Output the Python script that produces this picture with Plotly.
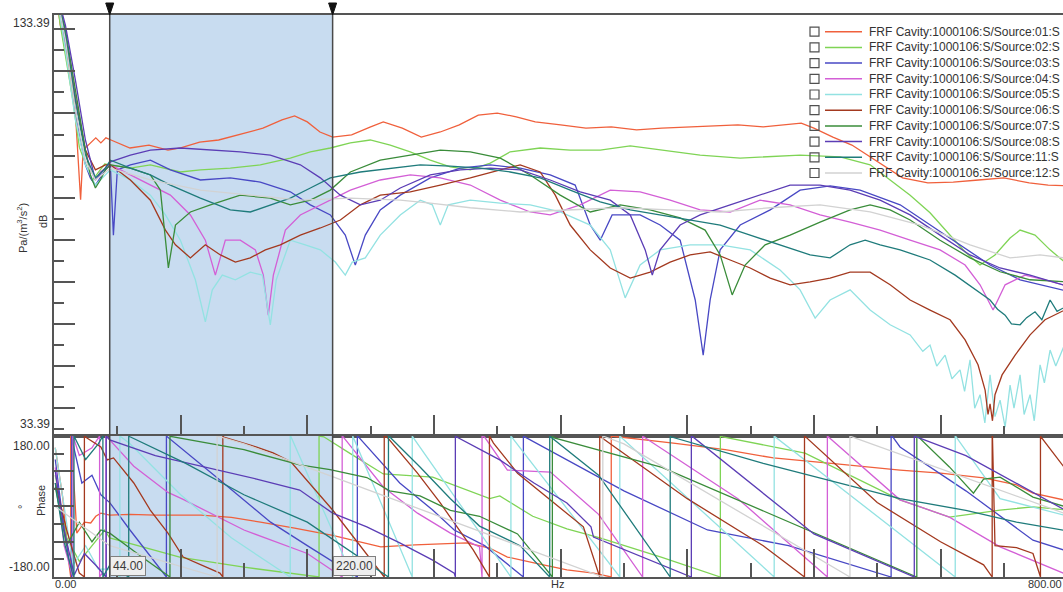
import math
import plotly.graph_objects as go

# ---------------------------------------------------------------------------
# Frequency response data: magnitude [Hz, dB] and unwrapped phase [Hz, deg]
# ---------------------------------------------------------------------------
MAG_01 = [[1, 140], [5, 131], [9, 126.3], [14, 116.8], [17, 109.6], [19, 99], [21, 89.5], [23, 101.3],
          [27, 102.5], [33, 104.2], [37, 103], [41, 104.2], [45, 103.7], [60, 101.8], [75, 102.5],
          [90, 101.3], [100, 101.8], [115, 103.2], [130, 103.7], [150, 105.4], [165, 106.5], [180, 108.5],
          [190, 109.4], [200, 108], [210, 105.6], [220, 104.4], [235, 104.9], [250, 106.8], [260, 108],
          [275, 106.5], [290, 104.4], [305, 105.6], [320, 107.3], [335, 109.6], [350, 110.1], [365, 109.2],
          [380, 108], [400, 107.3], [420, 106.5], [440, 106.8], [460, 106.1], [480, 106.5], [500, 106.8],
          [520, 107], [540, 107.3], [560, 106.8], [580, 107.3], [590, 107.7], [600, 106.5], [615, 104.4],
          [630, 102.5], [650, 98.5], [670, 94.7], [690, 93.5], [710, 93.7], [730, 94.2], [750, 94.7],
          [770, 93.5], [785, 93], [800, 92.8]]
MAG_02 = [[1, 140], [5, 131], [10, 122], [15, 113], [20, 102], [25, 98], [30, 94], [35, 96], [40, 98],
          [44.5, 97.8], [60.3, 97.0], [76.1, 97.8], [99.8, 96.1], [115.6, 96.6], [139.2, 97.0], [162.9, 97.8],
          [186.6, 99.4], [202.4, 100.9], [218.2, 101.8], [234, 103.0], [249.7, 103.7], [265.5, 102.5],
          [281.3, 100.9], [297.1, 98.9], [312.9, 97.3], [328.7, 96.6], [344.5, 98.2], [360.2, 100.9],
          [383.9, 101.8], [407.6, 101.3], [431.3, 101.3], [455, 102.3], [478.6, 101.3], [510.2, 100.1],
          [541.8, 99.4], [573.3, 99.9], [589.1, 100.1], [620.7, 99.7], [644.4, 97.8], [660.2, 94.2],
          [676, 90.6], [691.7, 86.4], [707.5, 81.1], [719.4, 77.1], [731.2, 74.0], [743, 76.4],
          [754.9, 80.4], [762.8, 82.3], [774.6, 81.1], [786.5, 77.6], [800, 74.2]]
MAG_03 = [[1, 140], [9.0, 127.4], [13.0, 120.3], [16.9, 110.8], [20.8, 103.7], [24.8, 97.8], [28.7, 94.7],
          [32.7, 93.0], [36.6, 94.7], [40.6, 96.6], [44.5, 97.8], [46.9, 81.1], [50.0, 96.6], [60.3, 97.8],
          [76.1, 98.9], [91.9, 96.6], [115.6, 94.2], [139.2, 94.7], [162.9, 93.7], [186.6, 91.4],
          [202.4, 88.3], [218.2, 85.9], [230.0, 81.1], [237.9, 74.0], [245.8, 81.1], [257.6, 87.1],
          [273.4, 90.6], [297.1, 94.7], [320.8, 97.0], [344.5, 97.8], [368.1, 97.0], [391.8, 95.4],
          [411.5, 93.0], [423.4, 83.5], [431.3, 79.9], [440.7, 85.9], [462.8, 85.9], [478.6, 83.5],
          [494.4, 79.9], [506.3, 65.7], [512.6, 52.6], [518.1, 65.7], [526.0, 77.6], [541.8, 83.5],
          [565.5, 87.1], [589.1, 91.8], [612.8, 92.8], [636.5, 91.8], [668.1, 88.3], [691.7, 83.5],
          [715.4, 78.8], [739.1, 74.0], [762.8, 70.5], [800, 67.8]]
MAG_04 = [[1, 140], [9.0, 129.8], [16.9, 114.4], [24.8, 101.3], [28.7, 96.6], [32.7, 94.2], [36.6, 96.1],
          [44.5, 97.8], [60.3, 95.4], [76.1, 93.0], [91.9, 90.6], [107.7, 85.9], [119.5, 79.9], [127.4, 71.6],
          [135.3, 79.9], [147.1, 79.9], [159.0, 77.6], [165.3, 71.6], [169.2, 62.1], [173.2, 71.6],
          [182.7, 82.3], [194.5, 85.9], [210.3, 88.3], [234.0, 91.8], [257.6, 94.2], [281.3, 95.4],
          [305.0, 94.7], [328.7, 93.0], [352.4, 89.4], [376.0, 86.6], [391.8, 85.9], [415.5, 88.3],
          [439.2, 91.8], [462.8, 91.4], [486.5, 89.4], [510.2, 87.1], [533.9, 86.6], [557.5, 89.4],
          [581.2, 88.3], [604.9, 85.9], [628.6, 84.2], [652.3, 82.3], [676.0, 79.9], [699.6, 77.6],
          [719.4, 74.0], [731.2, 69.3], [741.5, 63.3], [751.0, 69.3], [766.7, 71.6], [782.5, 70.5],
          [800, 69.0]]
MAG_05 = [[1, 140], [9.0, 125.1], [16.9, 108.5], [24.8, 97.8], [32.7, 93.0], [40.6, 95.4], [44.5, 96.6],
          [60.3, 94.2], [76.1, 90.6], [88.0, 85.9], [99.8, 79.9], [111.6, 70.5], [119.5, 60.5], [125.0, 68.1],
          [132.9, 71.6], [143.2, 70.5], [155.0, 72.3], [164.5, 71.6], [170.8, 59.8], [175.5, 70.5],
          [186.6, 79.9], [198.4, 78.8], [210.3, 77.6], [222.1, 74.7], [230.0, 71.6], [235.5, 74.7],
          [245.8, 75.7], [257.6, 81.1], [273.4, 85.9], [289.2, 89.4], [298.7, 88.3], [305.0, 83.5],
          [311.3, 88.3], [328.7, 89.4], [352.4, 88.7], [376.0, 88.3], [399.7, 86.6], [423.4, 83.5],
          [439.2, 77.6], [451.0, 66.2], [462.8, 74.0], [478.6, 77.6], [502.3, 78.8], [526.0, 78.8],
          [549.7, 77.6], [573.3, 72.8], [589.1, 68.1], [601.0, 61.4], [612.8, 65.7], [628.6, 68.1],
          [644.4, 63.3], [660.2, 59.8], [676.0, 57.4], [686.0, 53.5], [691.7, 55.0], [697.0, 50.0],
          [703.6, 52.6], [709.0, 47.0], [715.4, 49.1], [719.0, 44.0], [723.3, 51.5], [727.0, 40.0],
          [731.2, 43.2], [735.0, 36.5], [739.1, 47.9], [743.0, 38.0], [747.0, 41.9], [751.0, 35.5],
          [754.9, 45.5], [758.0, 40.0], [762.8, 47.9], [766.0, 38.5], [770.7, 43.2], [774.0, 37.0],
          [778.6, 50.3], [782.0, 46.0], [786.5, 53.8], [791.0, 50.0], [800, 56.6]]
MAG_06 = [[1, 140], [9.0, 128.6], [16.9, 113.2], [24.8, 101.3], [32.7, 96.6], [40.6, 97.8], [44.5, 97.8],
          [60.3, 94.2], [76.1, 89.4], [88.0, 82.3], [95.9, 78.8], [107.7, 75.7], [119.5, 78.8], [131.4, 76.4],
          [143.2, 74.7], [155.0, 75.7], [166.9, 77.6], [178.7, 78.8], [194.5, 81.1], [210.3, 82.8],
          [226.1, 84.7], [241.9, 88.3], [257.6, 90.6], [281.3, 91.4], [305.0, 93.0], [328.7, 94.7],
          [352.4, 96.6], [368.1, 97.8], [383.9, 96.1], [395.8, 90.6], [407.6, 83.5], [423.4, 77.6],
          [439.2, 73.3], [455.0, 70.9], [470.7, 72.3], [486.5, 74.7], [502.3, 76.4], [518.1, 77.1],
          [533.9, 75.2], [549.7, 73.3], [565.5, 70.9], [581.2, 69.3], [597.0, 70.0], [612.8, 70.9],
          [628.6, 72.3], [644.4, 72.3], [660.2, 69.3], [676.0, 65.7], [691.7, 63.3], [707.5, 61.0],
          [719.4, 56.2], [729.6, 50.3], [735.2, 44.3], [737.5, 38.5], [739.1, 41.0], [741.0, 37.0],
          [743.0, 43.2], [748.6, 47.9], [758.9, 52.6], [770.7, 57.4], [782.5, 61.0], [800, 63.6]]
MAG_07 = [[1, 140], [9.0, 129.8], [16.9, 115.6], [24.8, 101.3], [28.7, 95.4], [32.7, 92.3], [36.6, 94.2],
          [40.6, 96.6], [44.5, 97.8], [60.3, 97.0], [76.1, 95.4], [84.0, 91.8], [90.3, 73.3], [95.9, 83.5],
          [107.7, 86.6], [123.5, 88.3], [147.1, 90.6], [170.8, 89.9], [186.6, 88.3], [202.4, 89.4],
          [218.2, 91.8], [234.0, 96.1], [257.6, 98.9], [281.3, 100.1], [305.0, 101.3], [328.7, 100.9],
          [352.4, 99.4], [376.0, 95.4], [399.7, 90.6], [423.4, 86.6], [447.1, 88.3], [470.7, 87.1],
          [494.4, 85.2], [514.1, 82.3], [526.0, 76.4], [535.5, 66.9], [545.7, 74.0], [561.5, 78.8],
          [581.2, 81.1], [604.9, 84.2], [628.6, 87.1], [644.4, 88.3], [660.2, 87.1], [676.0, 84.7],
          [699.6, 79.9], [723.3, 75.7], [747.0, 72.4], [770.7, 70.5], [800, 70.0]]
MAG_08 = [[1, 140], [9.0, 131.0], [16.9, 117.9], [24.8, 103.7], [32.7, 94.2], [40.6, 97.0], [44.5, 98.5],
          [60.3, 100.1], [76.1, 101.3], [99.8, 101.8], [123.5, 101.3], [147.1, 100.9], [170.8, 100.1],
          [194.5, 97.8], [210.3, 94.7], [226.1, 90.6], [241.9, 88.3], [257.6, 89.4], [273.4, 92.3],
          [297.1, 95.4], [320.8, 96.6], [344.5, 97.0], [368.1, 96.6], [391.8, 94.2], [415.5, 91.4],
          [439.2, 89.4], [455.0, 85.9], [466.8, 77.6], [472.4, 71.6], [478.6, 77.6], [494.4, 83.5],
          [510.2, 85.9], [533.9, 88.3], [557.5, 90.6], [581.2, 93.0], [604.9, 93.0], [628.6, 91.8],
          [652.3, 89.4], [676.0, 85.9], [699.6, 81.1], [723.3, 76.4], [747.0, 73.3], [770.7, 71.6],
          [800, 69.0]]
MAG_11 = [[1, 140], [9.0, 128.6], [16.9, 113.2], [24.8, 100.1], [32.7, 94.7], [40.6, 97.0], [44.5, 98.9],
          [60.3, 97.0], [76.1, 95.4], [91.9, 93.0], [115.6, 89.9], [139.2, 87.1], [155.0, 86.6],
          [170.8, 88.3], [186.6, 89.9], [202.4, 92.3], [218.2, 94.7], [241.9, 96.1], [265.5, 97.0],
          [289.2, 97.8], [312.9, 97.5], [336.5, 97.0], [360.2, 96.1], [383.9, 94.7], [407.6, 91.8],
          [431.3, 89.0], [455.0, 87.1], [478.6, 85.9], [502.3, 84.7], [526.0, 83.5], [549.7, 81.1],
          [573.3, 78.8], [597.0, 76.4], [612.8, 75.7], [628.6, 78.8], [640.5, 79.9], [652.3, 78.8],
          [668.1, 77.6], [691.7, 75.2], [711.5, 71.6], [727.3, 68.1], [739.1, 65.7], [745.0, 63.5],
          [751.0, 62.1], [756.0, 60.0], [762.8, 59.8], [768.0, 61.5], [774.6, 62.9], [780.0, 61.0],
          [786.5, 65.7], [792.0, 63.0], [800, 64.3]]
MAG_12 = [[1, 140], [9.0, 127.4], [16.9, 110.8], [24.8, 98.9], [32.7, 94.2], [44.5, 97.0], [76.1, 94.2],
          [115.6, 91.8], [155.0, 90.6], [194.5, 89.4], [234.0, 89.9], [273.4, 89.4], [297.1, 88.7],
          [328.7, 87.6], [368.1, 86.6], [407.6, 87.1], [447.1, 87.6], [486.5, 87.1], [526.0, 86.6],
          [565.5, 87.6], [604.9, 88.3], [644.4, 86.6], [684.0, 83.5], [723.3, 78.8], [754.9, 75.7],
          [778.6, 76.4], [800, 75.6]]

PH_01 = [[1, 150], [7, 20], [12, -150], [14, -200], [18, -428], [24, -400], [29, -402], [33, -385],
         [37, -377], [44, -382], [60, -380], [80, -382], [116, -382], [140, -388], [163, -400], [190, -415],
         [220, -434], [258, -463], [285, -458], [326, -453], [344, -466], [358, -489], [379, -504],
         [405, -522], [426, -530], [440, -540], [449, -543], [489, -558], [530, -575], [568, -596],
         [620, -612], [668, -627], [700, -635], [734, -647], [760, -665], [773, -686], [800, -705]]
PH_02 = [[1, 80], [10, -80], [20, -140], [30, -100], [40, -60], [44, -80], [100, -130], [150, -155],
         [200, -175], [213, -182], [234, -225], [260, -277], [281, -281], [299, -285], [344, -340],
         [352, -333], [378, -385], [405, -417], [431, -440], [480, -490], [528, -542], [593, -584],
         [668, -703], [707, -747], [747, -729], [773, -721], [800, -729]]
PH_03 = [[1, 120], [8, -60], [15, -200], [22, -300], [30, -280], [37, -330], [44, -350], [60, -420],
         [89, -541], [130, -650], [171, -760], [200, -820], [240, -901], [273, -1020], [299, -1089],
         [316, -1140], [340, -1180], [371, -1261], [450, -1400], [516, -1500], [580, -1540], [662, -1621],
         [668, -1648], [720, -1760], [773, -1886], [800, -1914]]
PH_04 = [[1, 100], [8, -100], [14, -170], [20, -230], [30, -210], [38, -170], [44, -190], [63, -257],
         [90, -324], [102, -342], [150, -420], [200, -480], [228, -541], [260, -670], [287, -737],
         [313, -788], [336, -823], [338, -901], [340, -903], [358, -987], [392, -992], [430, -1100],
         [465, -1261], [540, -1420], [611, -1621], [668, -1783], [707, -1827], [747, -1903], [800, -1974]]
PH_05 = [[1, 150], [8, 0], [15, -150], [25, -100], [35, -160], [44, -160], [60, -200], [100, -330],
         [140, -440], [187, -541], [236, -901], [283, -1261], [361, -1621], [447, -1981], [569, -2341],
         [712, -2701], [747, -2860], [800, -2904]]
PH_06 = [[1, 60], [10, -60], [20, -170], [26, -185], [37, -208], [42, -241], [47, -236], [63, -300],
         [76, -369], [90, -428], [102, -489], [131, -530], [134, -543], [155, -563], [173, -583],
         [187, -606], [220, -729], [247, -844], [261, -901], [263, -903], [287, -995], [305, -1071],
         [318, -1132], [331, -1191], [342, -1250], [344, -1261], [347, -1278], [366, -1355], [392, -1423],
         [418, -1492], [431, -1621], [500, -1780], [560, -1900], [593, -1981], [650, -2150], [700, -2250],
         [734, -2309], [741, -2341], [743, -2620], [760, -2625], [773, -2640], [779, -2701], [800, -2790]]
PH_07 = [[1, 50], [10, -100], [20, -40], [30, -90], [37, -60], [44, -68], [70, -130], [92, -181],
         [150, -215], [194, -254], [218, -266], [247, -286], [265, -320], [289, -333], [313, -370],
         [336, -385], [366, -430], [392, -535], [395, -545], [480, -620], [580, -760], [682, -901],
         [707, -979], [726, -1046], [734, -1010], [747, -1005], [773, -1056], [800, -1082]]
PH_08 = [[1, 90], [8, -60], [16, -175], [24, -120], [33, -150], [44, -190], [80, -230], [120, -260],
         [160, -290], [194, -318], [220, -377], [247, -412], [273, -453], [299, -497], [316, -530],
         [317, -541], [352, -601], [379, -660], [405, -711], [424, -772], [426, -798], [504, -901],
         [600, -1150], [680, -1261], [720, -1310], [760, -1380], [800, -1452]]
PH_11 = [[1, 60], [8, -90], [15, -175], [25, -240], [35, -200], [44, -150], [60, -182], [104, -250],
         [150, -330], [200, -400], [265, -542], [289, -619], [313, -700], [336, -770], [368, -820],
         [392, -902], [430, -1000], [487, -1262], [560, -1330], [668, -1420], [720, -1450], [760, -1480],
         [800, -1502]]
PH_12 = [[1, 0], [44, -100], [150, -200], [300, -380], [450, -560], [629, -901], [800, -1100]]

SOURCES = ["01", "02", "03", "04", "05", "06", "07", "08", "11", "12"]
COLORS = ["#f0603c", "#7fd455", "#4848c4", "#d35fd6", "#93e2e2", "#a3391f", "#3a8c3a", "#5b3db5",
          "#1f7b7b", "#d2d2d2"]
MAGS = [MAG_01, MAG_02, MAG_03, MAG_04, MAG_05, MAG_06, MAG_07, MAG_08, MAG_11, MAG_12]
PHASES = [PH_01, PH_02, PH_03, PH_04, PH_05, PH_06, PH_07, PH_08, PH_11, PH_12]

CURSORS = [44.0, 220.0]
DB_RANGE = [33.39, 133.39]
PHASE_RANGE = [-180.0, 180.0]
X_VIEW = [0, 796.7]
FREQ_MAX = 800.0

GREY = "#555555"
TEXT = "#333333"
FONT = "Liberation Sans, Arial, sans-serif"


def wrap_phase(points):
    """Wrap an unwrapped phase curve into [-180, 180) with vertical jumps at each wrap."""
    xs, ys = [], []

    def branch(u):
        return math.floor((u + 180.0) / 360.0)

    f0, u0 = points[0]
    xs.append(f0)
    ys.append(u0 - 360.0 * branch(u0))
    for f1, u1 in points[1:]:
        k0, k1 = branch(u0), branch(u1)
        if k1 < k0:
            for k in range(k0, k1, -1):
                b = -180.0 + 360.0 * k
                fc = f0 + (b - u0) / (u1 - u0) * (f1 - f0)
                xs += [fc, fc]
                ys += [-180.0, 180.0]
        elif k1 > k0:
            for k in range(k0 + 1, k1 + 1):
                b = -180.0 + 360.0 * k
                fc = f0 + (b - u0) / (u1 - u0) * (f1 - f0)
                xs += [fc, fc]
                ys += [180.0, -180.0]
        xs.append(f1)
        ys.append(u1 - 360.0 * k1)
        f0, u0 = f1, u1
    return xs, ys


fig = go.Figure()

for src, col, mag, ph in zip(SOURCES, COLORS, MAGS, PHASES):
    name = f"FRF Cavity:1000106:S/Source:{src}:S"
    fig.add_trace(go.Scatter(x=[p[0] for p in mag], y=[p[1] for p in mag], mode="lines",
                             line=dict(color=col, width=1.3), name=name, showlegend=False,
                             xaxis="x", yaxis="y"))
    px, py = wrap_phase(ph)
    fig.add_trace(go.Scatter(x=px, y=py, mode="lines", line=dict(color=col, width=1.3),
                             name=name, showlegend=False, xaxis="x2", yaxis="y2"))

# plot geometry
TOP_SPLIT = 0.2509
PLOT_W = 1009.0
PLOT_H = 562.0


def paper_x(px):
    return (px - 54.0) / PLOT_W


def paper_y(py):
    return 1.0 - (py - 15.0) / PLOT_H


shapes = []
# selected band between cursors, shaded in both panes
shapes.append(dict(type="rect", xref="x", yref="y", x0=CURSORS[0], x1=CURSORS[1], y0=DB_RANGE[0],
                   y1=DB_RANGE[1], fillcolor="#c8dcf0", line=dict(width=0), layer="below"))
shapes.append(dict(type="rect", xref="x2", yref="y2", x0=CURSORS[0], x1=CURSORS[1], y0=PHASE_RANGE[0],
                   y1=PHASE_RANGE[1], fillcolor="#c8dcf0", line=dict(width=0), layer="below"))
for c in CURSORS:
    shapes.append(dict(type="line", xref="x", yref="paper", x0=c, x1=c, y0=0, y1=1,
                       line=dict(color="#4a4a4a", width=1.5)))
    half = 4.0 * (X_VIEW[1] - X_VIEW[0]) / PLOT_W
    shapes.append(dict(type="path", xref="x", yref="paper",
                       path=f"M {c - half},{paper_y(3)} L {c + half},{paper_y(3)} L {c},{paper_y(15)} Z",
                       fillcolor="#111111", line=dict(color="#111111", width=1)))

annotations = []
# legend with check boxes
for i, (src, col) in enumerate(zip(SOURCES, COLORS)):
    cy = 31.7 + 15.7 * i
    shapes.append(dict(type="rect", xref="paper", yref="paper", x0=paper_x(810), x1=paper_x(819),
                       y0=paper_y(cy - 4.5), y1=paper_y(cy + 4.5), line=dict(color="#505050", width=1.2),
                       fillcolor="rgba(255,255,255,0)"))
    shapes.append(dict(type="line", xref="paper", yref="paper", x0=paper_x(825), x1=paper_x(862),
                       y0=paper_y(cy), y1=paper_y(cy), line=dict(color=col, width=1.5)))
    annotations.append(dict(xref="paper", yref="paper", x=paper_x(867), y=paper_y(cy), xanchor="left",
                            yanchor="middle", showarrow=False,
                            text=f"FRF Cavity:1000106:S/Source:{src}:S",
                            font=dict(family=FONT, size=12, color=TEXT)))

# cursor value boxes
for c in CURSORS:
    annotations.append(dict(xref="x2", yref="y2", x=c, y=PHASE_RANGE[0], xanchor="left", yanchor="bottom",
                            xshift=0, yshift=1, showarrow=False, text=f"{c:.2f}",
                            font=dict(family=FONT, size=12, color="#3a3a3a"),
                            bgcolor="#eeeeee", bordercolor="#808080", borderwidth=1, borderpad=2))

# axis end labels
bottom_font = dict(family=FONT, size=11, color=TEXT)
annotations += [
    dict(xref="paper", yref="y", x=0, y=DB_RANGE[1], xanchor="right", yanchor="top", xshift=-2, yshift=1,
         showarrow=False, text=f"{DB_RANGE[1]:.2f}", font=dict(family=FONT, size=12, color=TEXT)),
    dict(xref="paper", yref="y", x=0, y=DB_RANGE[0], xanchor="right", yanchor="bottom", xshift=-2, yshift=3,
         showarrow=False, text=f"{DB_RANGE[0]:.2f}", font=dict(family=FONT, size=12, color=TEXT)),
    dict(xref="paper", yref="y2", x=0, y=PHASE_RANGE[1], xanchor="right", yanchor="top", xshift=-2, yshift=-1,
         showarrow=False, text=f"{PHASE_RANGE[1]:.2f}", font=dict(family=FONT, size=12, color=TEXT)),
    dict(xref="paper", yref="y2", x=0, y=PHASE_RANGE[0], xanchor="right", yanchor="bottom", xshift=-2, yshift=1,
         showarrow=False, text=f"{PHASE_RANGE[0]:.2f}", font=dict(family=FONT, size=12, color=TEXT)),
    dict(xref="paper", yref="paper", x=0, y=0, xanchor="left", yanchor="top", xshift=0, yshift=0,
         borderpad=0, showarrow=False, text=f"{X_VIEW[0]:.2f}", font=bottom_font),
    dict(xref="paper", yref="paper", x=paper_x(557), y=0, xanchor="center", yanchor="top", yshift=0,
         borderpad=0, showarrow=False, text="Hz", font=bottom_font),
    dict(xref="paper", yref="paper", x=1, y=0, xanchor="right", yanchor="top", yshift=0,
         borderpad=0, showarrow=False, text=f"{FREQ_MAX:.2f}", font=bottom_font),
    dict(xref="paper", yref="paper", x=paper_x(22), y=paper_y(228), xanchor="center", yanchor="middle",
         textangle=-90, showarrow=False, text="Pa/(m<sup>3</sup>/s<sup>2</sup>)",
         font=dict(family=FONT, size=11, color=TEXT)),
    dict(xref="paper", yref="paper", x=paper_x(43), y=paper_y(222), xanchor="center", yanchor="middle",
         textangle=-90, showarrow=False, text="dB", font=dict(family=FONT, size=11, color=TEXT)),
    dict(xref="paper", yref="paper", x=paper_x(41), y=paper_y(501), xanchor="center", yanchor="middle",
         textangle=-90, showarrow=False, text="Phase", font=dict(family=FONT, size=11, color=TEXT)),
    dict(xref="paper", yref="paper", x=paper_x(22), y=paper_y(507), xanchor="center", yanchor="middle",
         textangle=-90, showarrow=False, text="°", font=dict(family=FONT, size=11, color=TEXT)),
]

axis_common = dict(showgrid=False, zeroline=False, showticklabels=False, ticks="inside",
                   tickcolor=GREY, tickwidth=1.5, showline=True, linecolor=GREY, linewidth=1.5)

fig.update_layout(
    width=1063, height=592,
    margin=dict(l=54, r=0, t=15, b=15),
    paper_bgcolor="white", plot_bgcolor="white",
    showlegend=False,
    xaxis=dict(axis_common, domain=[0, 1], anchor="y", range=X_VIEW, tick0=0, dtick=100, ticklen=21,
               mirror=True,
               minor=dict(ticks="inside", ticklen=10, tick0=0, dtick=50, tickcolor=GREY, tickwidth=1.5)),
    yaxis=dict(axis_common, domain=[TOP_SPLIT, 1], anchor="x", range=DB_RANGE, tick0=0, dtick=10, ticklen=21,
               minor=dict(ticks="inside", ticklen=10, tick0=0, dtick=5, tickcolor=GREY, tickwidth=1.5)),
    xaxis2=dict(axis_common, domain=[0, 1], anchor="y2", range=X_VIEW, matches="x", tick0=0, dtick=100,
                ticklen=28, mirror=True,
                minor=dict(ticks="inside", ticklen=14, tick0=0, dtick=50, tickcolor=GREY, tickwidth=1.5)),
    yaxis2=dict(axis_common, domain=[0, TOP_SPLIT], anchor="x2", range=PHASE_RANGE, tick0=0, dtick=90,
                ticklen=20,
                minor=dict(ticks="inside", ticklen=10, tick0=0, dtick=45, tickcolor=GREY, tickwidth=1.5)),
    shapes=shapes,
    annotations=annotations,
    font=dict(family=FONT, size=12, color=TEXT),
)

fig.write_html("out.html")
